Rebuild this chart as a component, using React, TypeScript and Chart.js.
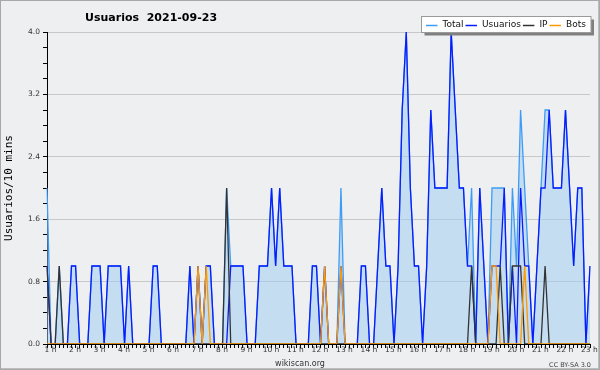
import React, { useEffect, useRef } from 'react';
import { Chart, registerables } from 'chart.js';

Chart.register(...registerables);

// ---- data (10-minute buckets, from 1:00 to 23:10) ----
const hourLabels = ['1 h', '2 h', '3 h', '4 h', '5 h', '6 h', '7 h', '8 h', '9 h', '10 h', '11 h', '12 h',
  '13 h', '14 h', '15 h', '16 h', '17 h', '18 h', '19 h', '20 h', '21 h', '22 h', '23 h'];

const totalValues = [
  2, 0, 0, 1, 0, 0,
  1, 1, 0, 0, 0, 1,
  1, 1, 0, 1, 1, 1,
  1, 0, 1, 0, 0, 0,
  0, 0, 1, 1, 0, 0,
  0, 0, 0, 0, 0, 1,
  0, 1, 0, 1, 1, 0,
  0, 0, 2, 1, 1, 1,
  1, 0, 0, 0, 1, 1,
  1, 2, 1, 2, 1, 1,
  1, 0, 0, 0, 0, 1,
  1, 0, 1, 0, 0, 0,
  2, 0, 0, 0, 0, 1,
  1, 0, 0, 1, 2, 1,
  1, 0, 1, 3, 4, 2,
  1, 1, 0, 1, 3, 2,
  2, 2, 2, 4, 3, 2,
  2, 1, 2, 0, 2, 1,
  0, 2, 2, 2, 2, 0,
  2, 1, 3, 2, 1, 0,
  1, 2, 3, 3, 2, 2,
  2, 3, 2, 1, 2, 2,
  0, 1,
];

const usuariosValues = [
  1, 0, 0, 0, 0, 0,
  1, 1, 0, 0, 0, 1,
  1, 1, 0, 1, 1, 1,
  1, 0, 1, 0, 0, 0,
  0, 0, 1, 1, 0, 0,
  0, 0, 0, 0, 0, 1,
  0, 1, 0, 1, 1, 0,
  0, 0, 0, 1, 1, 1,
  1, 0, 0, 0, 1, 1,
  1, 2, 1, 2, 1, 1,
  1, 0, 0, 0, 0, 1,
  1, 0, 1, 0, 0, 0,
  1, 0, 0, 0, 0, 1,
  1, 0, 0, 1, 2, 1,
  1, 0, 1, 3, 4, 2,
  1, 1, 0, 1, 3, 2,
  2, 2, 2, 4, 3, 2,
  2, 1, 1, 0, 2, 1,
  0, 1, 1, 1, 2, 0,
  1, 0, 2, 1, 1, 0,
  1, 2, 2, 3, 2, 2,
  2, 3, 2, 1, 2, 2,
  0, 1,
];

const ipValues = [
  1, 0, 0, 1, 0, 0,
  0, 0, 0, 0, 0, 0,
  0, 0, 0, 0, 0, 0,
  0, 0, 0, 0, 0, 0,
  0, 0, 0, 0, 0, 0,
  0, 0, 0, 0, 0, 0,
  0, 0, 0, 0, 0, 0,
  0, 0, 2, 0, 0, 0,
  0, 0, 0, 0, 0, 0,
  0, 0, 0, 0, 0, 0,
  0, 0, 0, 0, 0, 0,
  0, 0, 0, 0, 0, 0,
  0, 0, 0, 0, 0, 0,
  0, 0, 0, 0, 0, 0,
  0, 0, 0, 0, 0, 0,
  0, 0, 0, 0, 0, 0,
  0, 0, 0, 0, 0, 0,
  0, 0, 1, 0, 0, 0,
  0, 0, 0, 1, 0, 0,
  1, 1, 1, 0, 0, 0,
  0, 0, 1, 0, 0, 0,
  0, 0, 0, 0, 0, 0,
  0, 0,
];

const botsValues = [
  0, 0, 0, 0, 0, 0,
  0, 0, 0, 0, 0, 0,
  0, 0, 0, 0, 0, 0,
  0, 0, 0, 0, 0, 0,
  0, 0, 0, 0, 0, 0,
  0, 0, 0, 0, 0, 0,
  0, 1, 0, 1, 0, 0,
  0, 0, 0, 0, 0, 0,
  0, 0, 0, 0, 0, 0,
  0, 0, 0, 0, 0, 0,
  0, 0, 0, 0, 0, 0,
  0, 0, 1, 0, 0, 0,
  1, 0, 0, 0, 0, 0,
  0, 0, 0, 0, 0, 0,
  0, 0, 0, 0, 0, 0,
  0, 0, 0, 0, 0, 0,
  0, 0, 0, 0, 0, 0,
  0, 0, 0, 0, 0, 0,
  0, 1, 1, 0, 0, 0,
  0, 0, 0, 1, 0, 0,
  0, 0, 0, 0, 0, 0,
  0, 0, 0, 0, 0, 0,
  0, 0,
];

const TITLE = 'Usuarios  2021-09-23';
const Y_TITLE = 'Usuarios/10 mins';
const FOOTER = 'wikiscan.org';
const LICENSE = 'CC BY-SA 3.0';

// category labels: one per 10-minute bucket
const timeLabels: string[] = [];
for (let h = 1; timeLabels.length < usuariosValues.length; h++) {
  for (let m = 0; m < 60 && timeLabels.length < usuariosValues.length; m += 10) {
    timeLabels.push(`${h}:${m === 0 ? '00' : m}`);
  }
}

const BG = '#eeeff1';
const FONT = '"DejaVu Sans", sans-serif';

const decorPlugin = {
  id: 'decor',
  beforeDraw(chart: any) {
    const ctx = chart.ctx;
    ctx.save();
    ctx.fillStyle = BG;
    ctx.fillRect(0, 0, chart.width, chart.height);
    ctx.restore();
  },
  afterDraw(chart: any) {
    const ctx = chart.ctx;
    ctx.save();
    // title
    ctx.fillStyle = '#000';
    ctx.font = `bold 11px ${FONT}`;
    ctx.textAlign = 'left';
    ctx.textBaseline = 'alphabetic';
    ctx.fillText(TITLE, 85, 21);

    // footer
    ctx.font = `8px ${FONT}`;
    ctx.fillStyle = '#333';
    ctx.textAlign = 'center';
    ctx.fillText(FOOTER, 300, 366);
    ctx.font = `6.5px ${FONT}`;
    ctx.fillStyle = '#444';
    ctx.textAlign = 'right';
    ctx.fillText(LICENSE, 591, 367);

    // legend box with shadow
    const bx = 421.5, by = 16.5, bw = 169.5, bh = 16;
    ctx.fillStyle = '#808080';
    ctx.fillRect(bx + 3, by + 3, bw, bh);
    ctx.fillStyle = '#ffffff';
    ctx.fillRect(bx, by, bw, bh);
    ctx.strokeStyle = '#9a9a9a';
    ctx.lineWidth = 1;
    ctx.strokeRect(bx, by, bw, bh);

    ctx.font = `9px ${FONT}`;
    ctx.textAlign = 'left';
    ctx.textBaseline = 'middle';
    let x = 426;
    const ly = 25;
    chart.data.datasets.forEach((ds: any) => {
      ctx.strokeStyle = ds.borderColor;
      ctx.lineWidth = 1.5;
      ctx.beginPath();
      ctx.moveTo(x, ly + 0.5);
      ctx.lineTo(x + 11.5, ly + 0.5);
      ctx.stroke();
      ctx.fillStyle = '#111';
      ctx.fillText(ds.label, x + 16.5, ly);
      x = x + 16.5 + ctx.measureText(ds.label).width + 2;
    });

    // outer frame
    ctx.strokeStyle = '#a8a8a8';
    ctx.lineWidth = 1;
    ctx.strokeRect(0.5, 0.5, 599, 369);
    ctx.strokeStyle = '#bdbdbd';
    ctx.beginPath();
    ctx.moveTo(598.5, 1);
    ctx.lineTo(598.5, 369);
    ctx.moveTo(1, 368.5);
    ctx.lineTo(599, 368.5);
    ctx.stroke();
    ctx.restore();
  },
};

const isMajorY = (v: number) => Math.round(v * 5) % 4 === 0;

export default function App() {
  const canvasRef = useRef<HTMLCanvasElement | null>(null);

  useEffect(() => {
    if (!canvasRef.current) return;
    const chart = new Chart(canvasRef.current, {
      type: 'line',
      data: {
        labels: timeLabels,
        datasets: [
          {
            label: 'Total',
            data: totalValues,
            borderColor: '#3d9cf5',
            backgroundColor: 'rgba(156,203,241,0.5)',
            fill: 'origin',
            borderWidth: 1.3,
            order: 4,
          },
          {
            label: 'Usuarios',
            data: usuariosValues,
            borderColor: '#0a1cff',
            fill: false,
            borderWidth: 1.3,
            order: 3,
          },
          {
            label: 'IP',
            data: ipValues,
            borderColor: '#333333',
            fill: false,
            borderWidth: 1.3,
            order: 2,
          },
          {
            label: 'Bots',
            data: botsValues,
            borderColor: '#ff9900',
            fill: false,
            borderWidth: 1.3,
            order: 1,
          },
        ],
      },
      options: {
        responsive: false,
        animation: false,
        layout: { padding: { top: 32, right: 10, bottom: 0, left: 0 } },
        elements: { point: { radius: 0 }, line: { tension: 0 } },
        plugins: {
          legend: { display: false },
          title: { display: false },
          tooltip: { enabled: false },
        },
        scales: {
          x: {
            type: 'category',
            offset: false,
            grid: { drawOnChartArea: false, drawTicks: true, tickLength: 4, color: '#000', tickColor: '#000' },
            border: { color: '#000', width: 1 },
            ticks: {
              autoSkip: false,
              maxRotation: 0,
              minRotation: 0,
              padding: -2,
              labelOffset: 3.5,
              color: '#333',
              font: { family: 'DejaVu Sans', size: 7.5 },
              callback: (_v: any, i: number) => (i % 6 === 0 ? hourLabels[i / 6] : ''),
            },
            afterFit: (s: any) => { s.height = 26; },
          },
          y: {
            min: 0,
            max: 4,
            ticks: {
              stepSize: 0.2,
              autoSkip: false,
              padding: 3,
              color: '#333',
              font: { family: 'DejaVu Sans', size: 7.5 },
              callback: (v: any) => (isMajorY(Number(v)) ? Number(v).toFixed(1) : ''),
            },
            grid: {
              drawTicks: true,
              tickLength: 4,
              color: (c: any) => (isMajorY(c.tick.value) ? '#c8c8c8' : 'rgba(0,0,0,0)'),
              tickColor: '#000',
            },
            border: { color: '#000', width: 1 },
            title: {
              display: true,
              text: Y_TITLE,
              color: '#000',
              font: { family: 'DejaVu Sans Mono', size: 11 },
              padding: { top: 2.5, bottom: 0 },
            },
            afterFit: (s: any) => { s.width = 47; },
          },
        },
      },
      plugins: [decorPlugin],
    } as any);
    return () => chart.destroy();
  }, []);

  return (
    <div style={{ position: 'absolute', left: 0, top: 0, width: 600, height: 370 }}>
      <canvas ref={canvasRef} width={600} height={370} style={{ display: 'block' }} />
    </div>
  );
}
